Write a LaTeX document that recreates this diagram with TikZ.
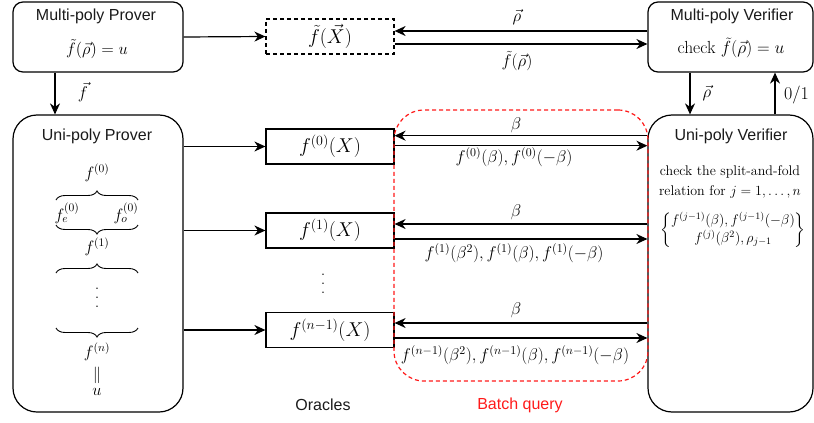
\RequirePackage{fix-cm}
\documentclass[tikz,border=0pt]{standalone}
\usepackage{amsmath}
\usepackage{fontspec}
\newfontfamily\labelsans{Liberation Sans}
\usetikzlibrary{arrows.meta,decorations.pathreplacing}

\definecolor{ink}{HTML}{1A1A1A}
\definecolor{batchred}{HTML}{FF1A1A}

% vertical ellipsis whose spacing follows the font size
\newcommand{\tallvdots}{\vbox{\baselineskip=0.5em\lineskiplimit=0pt\hbox{.}\hbox{.}\hbox{.}}}

\tikzset{
  actor/.style={draw, line width=1.2pt, rounded corners=10pt, minimum width=170pt, minimum height=70pt, inner sep=0pt},
  bigactor/.style={draw, line width=1.2pt, rounded corners=24pt, minimum width=170pt, minimum height=297pt, inner sep=0pt},
  oracle/.style={draw, line width=1.2pt, minimum width=128pt, minimum height=35pt, inner sep=0pt, font=\fontsize{20}{23}\selectfont},
  title/.style={font=\labelsans\fontsize{16}{19}\selectfont, text=ink, inner sep=0pt},
  lbl/.style={font=\fontsize{17}{20}\selectfont, inner sep=0pt},
  chain/.style={font=\fontsize{16.5}{19}\selectfont, inner sep=0pt},
  small/.style={font=\fontsize{14}{17}\selectfont, inner sep=0pt},
  ellip/.style={font=\fontsize{18}{21}\selectfont, inner sep=0pt},
  arr/.style={line width=1.2pt, -{Stealth[length=11pt,width=10pt,inset=3.5pt]}},
  fold/.style={line width=0.9pt, decorate, decoration={brace, amplitude=9pt}},
  batch/.style={draw=batchred, line width=1.2pt, dash pattern=on 4pt off 3pt, rounded corners=30pt, inner sep=0pt},
}

\begin{document}
\begin{tikzpicture}[x=1pt, y=-1pt]
\useasboundingbox (0,0) rectangle (814,423);

% parties
\node[actor] (mp) at (98,37) {};
\node[actor, minimum width=165pt] (mv) at (730.5,37) {};
\node[bigactor] (up) at (98,263.5) {};
\node[bigactor, minimum width=165pt] (uv) at (730.5,263.5) {};

\node[title] (mpt) at (96,16) {Multi-poly Prover};
\node[chain] (mpf) at (97,49) {$\tilde f(\vec\rho)=u$};
\node[title] (mvt) at (732,16) {Multi-poly Verifier};
\node[font=\fontsize{17.5}{20}\selectfont, inner sep=0pt] (mvf) at (731,48) {check $\tilde f(\vec\rho)=u$};
\node[title] (upt) at (97,136) {Uni-poly Prover};
\node[title] (uvt) at (731,136) {Uni-poly Verifier};

% oracles
\node[oracle, dash pattern=on 4pt off 3pt] (fX) at (330,36.5) {$\tilde f(\vec X)$};
\node[oracle] (f0) at (330,146.5) {$f^{(0)}(X)$};
\node[oracle] (f1) at (330,230.5) {$f^{(1)}(X)$};
\node[oracle] (fn) at (330,330) {$f^{(n-1)}(X)$};
\node[ellip] (odots) at (323,284) {\tallvdots};
\node[title] (orc) at (323,405) {Oracles};
\node[title, text=batchred] (bqt) at (520,405) {Batch query};

% multi-poly exchange
\draw[arr] (mp.east) -- (fX.west);
\coordinate (r1) at (0,31);
\coordinate (r2) at (0,44);
\draw[arr] (mv.west |- r1) -- (fX.east |- r1);
\draw[arr] (fX.east |- r2) -- (mv.west |- r2);
\node[lbl] (rho) at (517,17) {$\vec\rho$};
\node[lbl] (frho) at (517,61) {$\tilde f(\vec\rho)$};

% reduction arrows
\coordinate (xa) at (55,0);
\coordinate (xb) at (690,0);
\coordinate (xc) at (775,0);
\draw[arr] (mp.south -| xa) -- (up.north -| xa);
\draw[arr] (mv.south -| xb) -- (uv.north -| xb);
\draw[arr] (uv.north -| xc) -- (mv.south -| xc);
\node[lbl] (fvec) at (83,92) {$\vec f$};
\node[lbl] (rhod) at (707,93) {$\vec\rho$};
\node[lbl, anchor=west, font=\fontsize{18}{21}\selectfont] (bit) at (784,95) {$0/1$};

% commitments to oracles
\draw[arr] (up.east |- f0) -- (f0.west);
\draw[arr] (up.east |- f1) -- (f1.west);
\draw[arr] (up.east |- fn) -- (fn.west);

% queries and answers
\coordinate (a0) at (0,135.7);
\coordinate (b0) at (0,145.7);
\coordinate (a1) at (0,224);
\coordinate (b1) at (0,239);
\coordinate (a2) at (0,323);
\coordinate (b2) at (0,338);
\draw[arr] (uv.west |- a0) -- (f0.east |- a0);
\draw[arr] (f0.east |- b0) -- (uv.west |- b0);
\draw[arr] (uv.west |- a1) -- (f1.east |- a1);
\draw[arr] (f1.east |- b1) -- (uv.west |- b1);
\draw[arr] (uv.west |- a2) -- (fn.east |- a2);
\draw[arr] (fn.east |- b2) -- (uv.west |- b2);
\node[lbl] (q0) at (516,125) {$\beta$};
\node[lbl] (q1) at (516,212) {$\beta$};
\node[lbl] (q2) at (516,310) {$\beta$};
\node[lbl] (ans0) at (514,157) {$f^{(0)}(\beta), f^{(0)}(-\beta)$};
\node[lbl] (ans1) at (514,253) {$f^{(1)}(\beta^2), f^{(1)}(\beta), f^{(1)}(-\beta)$};
\node[lbl] (ans2) at (515,355) {$f^{(n-1)}(\beta^2), f^{(n-1)}(\beta), f^{(n-1)}(-\beta)$};

% split-and-fold chain inside the prover
\node[chain] (p0) at (97,173) {$f^{(0)}$};
\draw[fold] (56,200) -- (138,200);
\node[chain] (pe) at (67,213) {$f_e^{(0)}$};
\node[chain] (po) at (126,213) {$f_o^{(0)}$};
\draw[fold] (138,225) -- (56,225);
\node[chain] (p1) at (97,247) {$f^{(1)}$};
\draw[fold] (56,273) -- (138,273);
\node[ellip] (pdots) at (97,298) {\tallvdots};
\draw[fold] (138,328) -- (56,328);
\node[chain] (pn) at (97,352) {$f^{(n)}$};
\node[chain] (peq) at (97,375) {$\Vert$};
\node[chain] (pu) at (97,392) {$u$};

% verifier checks
\node[small] (chk1) at (730,172) {check the split-and-fold};
\node[small] (chk2) at (730,192) {relation for $j=1,\ldots,n$};
\node[font=\fontsize{14}{17}\selectfont, inner sep=0pt] (rel) at (733,230)
  {$\left\{\begin{matrix} f^{(j-1)}(\beta), f^{(j-1)}(-\beta)\\ f^{(j)}(\beta^2), \rho_{j-1}\end{matrix}\right\}$};

% batch query region
\node[batch, minimum width=254pt, minimum height=271pt] (bq) at (521,245.5) {};
\end{tikzpicture}
\end{document}
